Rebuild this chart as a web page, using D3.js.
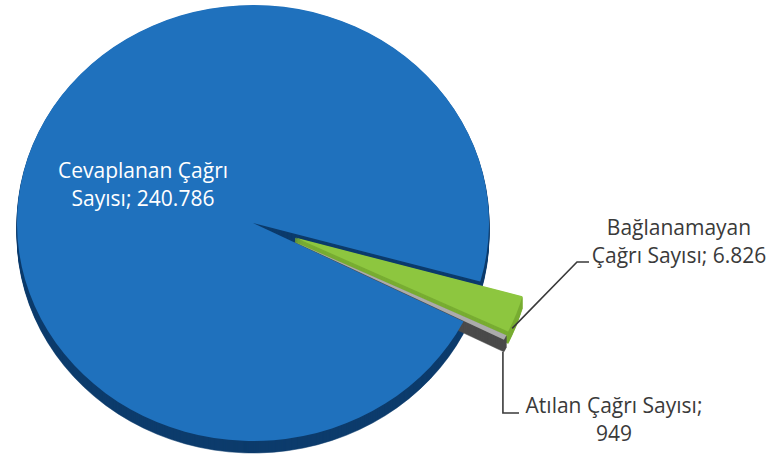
<!DOCTYPE html>
<html lang="tr">
<head>
<meta charset="utf-8">
<script src="https://cdn.jsdelivr.net/npm/d3@7"></script>
<style>
  html, body { margin: 0; padding: 0; background: #ffffff; }
  svg { display: block; }
  text { font-family: "Open Sans", "Noto Sans", sans-serif; }
</style>
</head>
<body>
<svg id="chart" width="769" height="465"></svg>
<script>
// Çağrı dağılımı (slices in drawing order, clockwise)
const categories = ["Bağlanamayan Çağrı Sayısı", "Atılan Çağrı Sayısı", "Cevaplanan Çağrı Sayısı"];
const values = [6826, 949, 240786];
// number of words on the first line of each label
const lineBreakAfter = [1, 3, 2];

const W = 769, H = 465;
const cx = 253, cy = 223;         // centre of the top face
const rx = 236, ry = 218;         // ellipse radii of the top face
const depth = 12;                 // visible thickness of the disc
const explodeBy = [45, 45, 0];

const topColor = d3.scaleOrdinal().domain(categories).range(["#8dc63f", "#ababab", "#1f71bd"]);
const sideColor = d3.scaleOrdinal().domain(categories).range(["#79ad33", "#4b4b4b", "#0d3c6c"]);

const fmt = d3.formatLocale({ decimal: ",", thousands: ".", grouping: [3], currency: ["₺", ""] }).format(",d");

const data = categories.map((name, i) => ({ name, value: values[i], i }));

const start = 105.6 * Math.PI / 180;
const pie = d3.pie().value(d => d.value).sort(null)
  .startAngle(start).endAngle(start + 2 * Math.PI);
const arcs = pie(data);

const arc = d3.arc().innerRadius(0).outerRadius(rx);
const sy = ry / rx;

const svg = d3.select("#chart");

function offset(d) {
  const mid = (d.startAngle + d.endAngle) / 2;
  const e = explodeBy[d.data.i];
  return [e * Math.sin(mid), -e * Math.cos(mid) * sy];
}

// draw order: the big slice first, exploded slices on top
const order = [2, 0, 1];

// side walls: stacked copies shifted downwards
const sides = svg.append("g");
order.forEach(k => {
  const d = arcs[k];
  const [ox, oy] = offset(d);
  for (let s = depth; s >= 1; s--) {
    sides.append("path")
      .attr("transform", `translate(${cx + ox},${cy + oy + s}) scale(1,${sy})`)
      .attr("d", arc(d))
      .attr("fill", sideColor(d.data.name))
      .attr("stroke", sideColor(d.data.name))
      .attr("stroke-width", 0.6);
  }
});

// top faces
const tops = svg.append("g");
order.forEach(k => {
  const d = arcs[k];
  const [ox, oy] = offset(d);
  tops.append("path")
    .attr("transform", `translate(${cx + ox},${cy + oy}) scale(1,${sy})`)
    .attr("d", arc(d))
    .attr("fill", topColor(d.data.name));
});

// label text built from the data
function labelLines(d) {
  const words = `${d.data.name}; ${fmt(d.data.value)}`.split(" ");
  const n = lineBreakAfter[d.data.i];
  return [words.slice(0, n).join(" "), words.slice(n).join(" ")];
}

// leader lines
const leaderColor = "#3a3a3a";
function outerPoint(d, ang) {
  const [ox, oy] = offset(d);
  return [cx + ox + rx * Math.sin(ang), cy + oy - ry * Math.cos(ang)];
}
const green = arcs[0], grey = arcs[1], blue = arcs[2];
const gp = outerPoint(green, green.endAngle);
svg.append("path")
  .attr("d", d3.line()([[gp[0] + 4, gp[1] - 3], [577, 262], [589, 262]]))
  .attr("fill", "none").attr("stroke", leaderColor).attr("stroke-width", 1.6);
const ap = outerPoint(grey, grey.endAngle);
svg.append("path")
  .attr("d", d3.line()([[ap[0] - 1, ap[1] + depth], [ap[0] - 1, 413], [519, 413]]))
  .attr("fill", "none").attr("stroke", leaderColor).attr("stroke-width", 1.6);

// labels
const labelPos = [
  { x: 679, y: 235, color: "#3a3a3a" },
  { x: 614, y: 413, color: "#3a3a3a" },
  { x: 143, y: 178, color: "#ffffff" }
];
arcs.forEach(d => {
  const p = labelPos[d.data.i];
  const t = svg.append("text")
    .attr("x", p.x).attr("y", p.y)
    .attr("text-anchor", "middle")
    .attr("font-size", 21)
    .attr("fill", p.color);
  labelLines(d).forEach((line, j) => {
    t.append("tspan").attr("x", p.x).attr("dy", j === 0 ? 0 : 28).text(line);
  });
});
</script>
</body>
</html>
